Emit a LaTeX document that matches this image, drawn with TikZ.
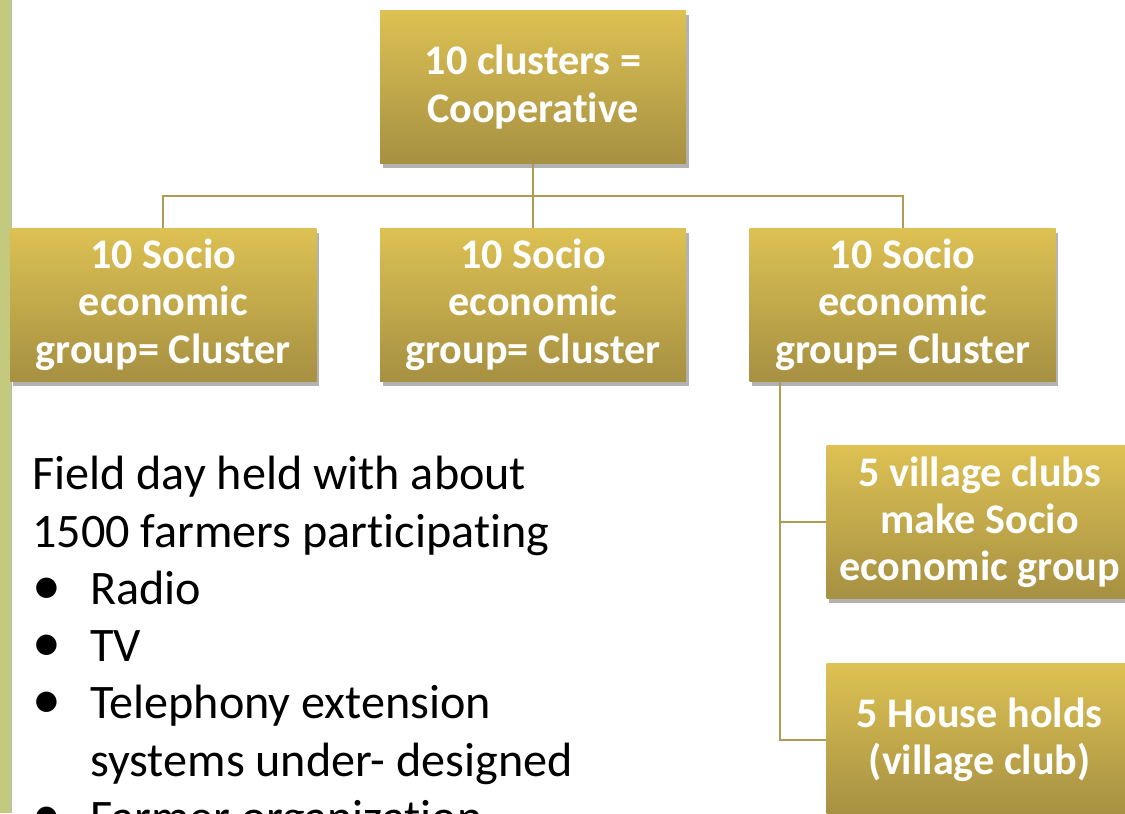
\documentclass[tikz,border=0pt]{standalone}
\usepackage{fontspec}
\setmainfont{Carlito}[Ligatures=NoCommon]
\usepackage{xcolor}
\usepackage{tikz}
\usetikzlibrary{positioning,calc,shadows}
\definecolor{goldtop}{RGB}{221,193,83}
\definecolor{goldbot}{RGB}{166,144,66}
\definecolor{linkcol}{RGB}{176,155,86}
\definecolor{sidebar}{RGB}{195,202,125}

\begin{document}
\begin{tikzpicture}[
			unit/.style={rectangle, minimum width=6.12cm, minimum height=3.06cm, inner sep=2pt, top color=goldtop, bottom color=goldbot, text=white, align=center, font=\fontsize{24}{26.8}\selectfont\bfseries, drop shadow={shadow xshift=1.5pt, shadow yshift=-2.5pt, opacity=0.3, fill=black}},
			link/.style={draw=linkcol, line width=1.1pt},
			note/.style={align=left, font=\fontsize{27.4}{32.6}\selectfont, inner sep=0pt}
			]
			
			% Page frame
			\useasboundingbox (0,0) rectangle (22.5,-16.26);
			\clip (0,0) rectangle (22.5,-16.26);
			\fill[sidebar] (0,0) rectangle (0.22,-16.26);
			\draw[gray!55, line width=0.8pt] (0.235,0) -- (0.235,-16.26);
			
			% Top unit
			\node[unit] (coop) at (10.66,-1.74) {10 clusters =\\Cooperative};
			
			% Clusters
			\node[unit, below=1.28cm of coop] (grpb) {10 Socio\\economic\\group= Cluster};
			\node[unit, left=1.26cm of grpb] (grpa) {10 Socio\\economic\\group= Cluster};
			\node[unit, right=1.26cm of grpb] (grpc) {10 Socio\\economic\\group= Cluster};
			
			% Lower levels
			\node[unit, anchor=north west] (club) at ($(grpc.south west)+(1.54,-1.28)$) {5 village clubs\\make Socio\\economic group};
			\node[unit, below=1.28cm of club] (home) {5 House holds\\(village club)};
			
			% Connectors
			\coordinate (bus) at ($(coop.south)+(0,-0.64)$);
			\draw[link] (coop.south) -- (bus);
			\draw[link] (bus) -| (grpa.north);
			\draw[link] (bus) -- (grpb.north);
			\draw[link] (bus) -| (grpc.north);
			\coordinate (spine) at ($(grpc.south west)+(0.62,0)$);
			\draw[link] (spine) |- (club.west);
			\draw[link] (spine) |- (home.west);
			
			% Field day notes
			\node[note, anchor=north west] (field) at (0.64,-9.12) {Field day held with about\\
				1500 farmers participating\\
				\makebox[1.16cm][l]{\scalebox{1.2}{\textbullet}}Radio\\
				\makebox[1.16cm][l]{\scalebox{1.2}{\textbullet}}TV\\
				\makebox[1.16cm][l]{\scalebox{1.2}{\textbullet}}Telephony extension\\
				\hspace*{1.16cm}systems under- designed\\
				\makebox[1.16cm][l]{\scalebox{1.2}{\textbullet}}Farmer organization};
			
		\end{tikzpicture}
\end{document}
